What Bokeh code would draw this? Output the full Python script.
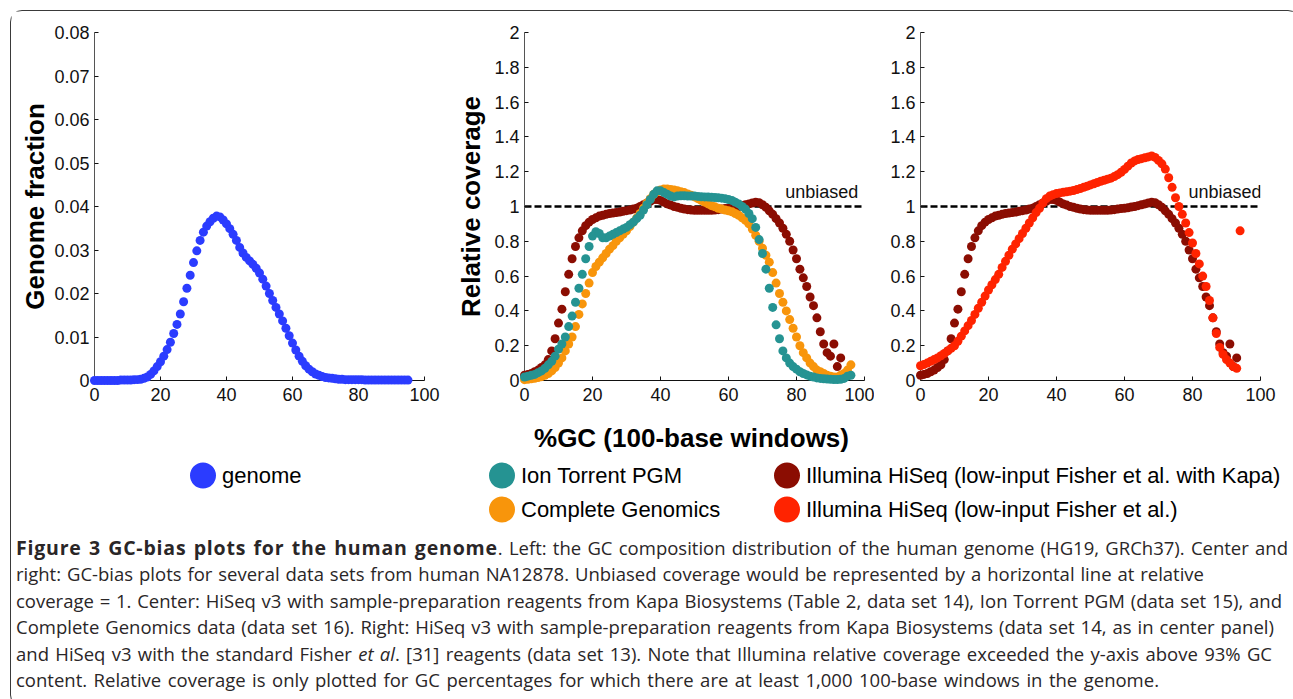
from bokeh.plotting import figure
from bokeh.models import Range1d, FixedTicker, Label, Div
from bokeh.layouts import column, row
from bokeh.embed import file_html
from bokeh.resources import INLINE
from bokeh.core.properties import value

# ---------------- data ----------------
genome_gc = list(range(0, 96))
genome_fraction = [
    0.0000, 0.0000, 0.0000, 0.0000, 0.0000, 0.0000, 0.0000, 0.0000, 0.0001, 0.0001,
    0.0001, 0.0001, 0.0002, 0.0002, 0.0003, 0.0005, 0.0008, 0.0014, 0.0022, 0.0032,
    0.0043, 0.0056, 0.0071, 0.0088, 0.0108, 0.0129, 0.0153, 0.0181, 0.0212, 0.0242,
    0.0271, 0.0298, 0.0322, 0.0341, 0.0355, 0.0365, 0.0373, 0.0378, 0.0376, 0.0369,
    0.0360, 0.0349, 0.0336, 0.0322, 0.0306, 0.0293, 0.0283, 0.0275, 0.0267, 0.0258,
    0.0247, 0.0233, 0.0217, 0.0200, 0.0184, 0.0168, 0.0153, 0.0137, 0.0120, 0.0103,
    0.0086, 0.0070, 0.0056, 0.0044, 0.0034, 0.0026, 0.0020, 0.0015, 0.0012, 0.0009,
    0.0007, 0.0006, 0.0005, 0.0004, 0.0003, 0.0003, 0.0002, 0.0002, 0.0002, 0.0002,
    0.0002, 0.0002, 0.0001, 0.0001, 0.0001, 0.0001, 0.0001, 0.0001, 0.0001, 0.0001,
    0.0001, 0.0001, 0.0001, 0.0001, 0.0001, 0.0001,
]

kapa_gc = list(range(0, 94))
kapa_cov = [
    0.03, 0.035, 0.04, 0.05, 0.06, 0.075, 0.09, 0.12, 0.17, 0.24,
    0.33, 0.41, 0.51, 0.61, 0.70, 0.77, 0.82, 0.86, 0.89, 0.91,
    0.925, 0.935, 0.945, 0.95, 0.955, 0.96, 0.962, 0.965, 0.968, 0.972,
    0.976, 0.98, 0.985, 0.99, 1.0, 1.01, 1.02, 1.03, 1.04, 1.04,
    1.035, 1.025, 1.015, 1.008, 1.0, 0.995, 0.99, 0.985, 0.982, 0.98,
    0.978, 0.978, 0.978, 0.978, 0.978, 0.978, 0.98, 0.982, 0.985, 0.988,
    0.99, 0.993, 0.997, 1.0, 1.005, 1.01, 1.015, 1.02, 1.025, 1.022,
    1.01, 0.995, 0.975, 0.955, 0.93, 0.905, 0.875, 0.84, 0.80, 0.75,
    0.70, 0.64, 0.59, 0.54, 0.48, 0.43, 0.36, 0.28, 0.21, 0.16,
    0.14, 0.21, 0.08, 0.13,
]

ion_gc = list(range(0, 97))
ion_cov = [
    0.02, 0.025, 0.03, 0.035, 0.045, 0.055, 0.07, 0.09, 0.11, 0.14,
    0.18, 0.21, 0.25, 0.31, 0.37, 0.45, 0.53, 0.61, 0.70, 0.77,
    0.83, 0.855, 0.845, 0.82, 0.82, 0.83, 0.84, 0.85, 0.86, 0.87,
    0.88, 0.895, 0.91, 0.93, 0.95, 0.98, 1.01, 1.04, 1.07, 1.09,
    1.09, 1.08, 1.07, 1.06, 1.055, 1.06, 1.062, 1.062, 1.06, 1.06,
    1.06, 1.058, 1.056, 1.055, 1.054, 1.053, 1.052, 1.05, 1.048, 1.045,
    1.04, 1.035, 1.025, 1.015, 1.0, 0.985, 0.96, 0.93, 0.88, 0.81,
    0.73, 0.64, 0.53, 0.42, 0.32, 0.24, 0.17, 0.13, 0.10, 0.08,
    0.065, 0.05, 0.04, 0.032, 0.025, 0.02, 0.015, 0.012, 0.01, 0.008,
    0.007, 0.006, 0.006, 0.007, 0.012, 0.025, 0.03,
]

cg_gc = list(range(0, 97))
cg_cov = [
    0.005, 0.007, 0.01, 0.013, 0.017, 0.022, 0.03, 0.04, 0.055, 0.075,
    0.10, 0.13, 0.17, 0.21, 0.25, 0.31, 0.38, 0.44, 0.50, 0.56,
    0.62, 0.655, 0.68, 0.705, 0.73, 0.755, 0.775, 0.80, 0.82, 0.84,
    0.86, 0.885, 0.91, 0.935, 0.96, 0.99, 1.02, 1.045, 1.07, 1.085,
    1.095, 1.10, 1.10, 1.098, 1.095, 1.09, 1.085, 1.08, 1.072, 1.065,
    1.055, 1.045, 1.035, 1.025, 1.015, 1.005, 0.998, 0.99, 0.985, 0.98,
    0.975, 0.97, 0.96, 0.95, 0.935, 0.92, 0.90, 0.87, 0.835, 0.80,
    0.76, 0.72, 0.68, 0.62, 0.56, 0.50, 0.45, 0.40, 0.35, 0.30,
    0.25, 0.20, 0.16, 0.13, 0.10, 0.08, 0.06, 0.05, 0.04, 0.03,
    0.025, 0.02, 0.02, 0.03, 0.04, 0.06, 0.09,
]

fisher_gc = list(range(0, 95))
fisher_cov = [
    0.085, 0.092, 0.10, 0.11, 0.12, 0.13, 0.142, 0.155, 0.17, 0.185,
    0.20, 0.225, 0.255, 0.285, 0.315, 0.345, 0.38, 0.415, 0.45, 0.485,
    0.52, 0.55, 0.58, 0.61, 0.65, 0.685, 0.72, 0.755, 0.785, 0.815,
    0.845, 0.875, 0.905, 0.935, 0.965, 0.99, 1.02, 1.045, 1.06, 1.068,
    1.074, 1.078, 1.082, 1.085, 1.088, 1.092, 1.097, 1.103, 1.11, 1.117,
    1.124, 1.131, 1.138, 1.145, 1.151, 1.157, 1.163, 1.172, 1.183, 1.197,
    1.213, 1.232, 1.25, 1.262, 1.27, 1.275, 1.28, 1.285, 1.29, 1.282,
    1.265, 1.245, 1.215, 1.165, 1.11, 1.05, 1.0, 0.955, 0.905, 0.85,
    0.79, 0.73, 0.67, 0.60, 0.54, 0.46, 0.36, 0.27, 0.19, 0.15,
    0.12, 0.10, 0.08, 0.07, 0.86,
]

unbiased_x = [0, 100]
unbiased_y = [1, 1]

x_ticks = [0, 20, 40, 60, 80, 100]
genome_ticks = [0, 0.01, 0.02, 0.03, 0.04, 0.05, 0.06, 0.07, 0.08]
genome_tick_labels = ["0", "0.01", "0.02", "0.03", "0.04", "0.05", "0.06", "0.07", "0.08"]
cov_ticks = [0, 0.2, 0.4, 0.6, 0.8, 1.0, 1.2, 1.4, 1.6, 1.8, 2.0]
cov_tick_labels = ["0", "0.2", "0.4", "0.6", "0.8", "1", "1.2", "1.4", "1.6", "1.8", "2"]

legend_labels = ["genome", "Ion Torrent PGM", "Complete Genomics",
                 "Illumina HiSeq (low-input Fisher et al. with Kapa)",
                 "Illumina HiSeq (low-input Fisher et al.)"]

# caption text, one entry per printed line (text, right edge of the line in px)
caption_lines = [
    ('<b style="font-size:19.5px; letter-spacing:0.8px;">Figure 3 GC-bias plots for the human genome</b>'
     '. Left: the GC composition distribution of the human genome (HG19, GRCh37). Center and', 1272),
    ("right: GC-bias plots for several data sets from human NA12878. Unbiased coverage would be "
     "represented by a horizontal line at relative", 1188),
    ("coverage = 1. Center: HiSeq v3 with sample-preparation reagents from Kapa Biosystems "
     "(Table 2, data set 14), Ion Torrent PGM (data set 15), and", 1266),
    ("Complete Genomics data (data set 16). Right: HiSeq v3 with sample-preparation reagents from "
     "Kapa Biosystems (data set 14, as in center panel)", 1258),
    ("and HiSeq v3 with the standard Fisher <i>et al</i>. [31] reagents (data set 13). Note that "
     "Illumina relative coverage exceeded the y-axis above 93% GC", 1256),
    ("content. Relative coverage is only plotted for GC percentages for which there are at least "
     "1,000 100-base windows in the genome.", 1143),
]

# ---------------- styles ----------------
BLUE = "#2b3cff"
TEAL = "#259392"
ORANGE = "#f8950b"
DARKRED = "#8b0d02"
RED = "#ff2300"
FONT = "Liberation Sans"
DOT = 9

FIG_H = 399
TOP = 21
BOTTOM = 30


def make_panel(width, left, right, y_end, ticks, tick_labels, ylabel=None, ylabel_standoff=3):
    p = figure(width=width, height=FIG_H,
               x_range=Range1d(0, 100), y_range=Range1d(0, y_end),
               output_backend="svg", toolbar_location=None,
               min_border_left=left, min_border_right=right,
               min_border_top=TOP, min_border_bottom=BOTTOM)
    p.grid.visible = False
    p.outline_line_color = None
    xa = p.xaxis[0]
    ya = p.yaxis[0]
    xa.ticker = FixedTicker(ticks=x_ticks)
    ya.ticker = FixedTicker(ticks=ticks)
    ya.major_label_overrides = {t: l for t, l in zip(ticks, tick_labels)}
    for ax in (xa, ya):
        ax.major_tick_in = 4
        ax.major_tick_out = 0
        ax.minor_tick_line_color = None
        ax.major_tick_line_color = "#111111"
        ax.major_label_text_font = FONT
        ax.major_label_text_font_size = "18px"
        ax.major_label_text_color = "#111111"
    xa.axis_line_color = "#111111"
    ya.axis_line_color = "#555555"
    xa.major_label_standoff = 7
    ya.major_label_standoff = 5
    if ylabel:
        ya.axis_label = ylabel
        ya.axis_label_text_font = FONT
        ya.axis_label_text_font_size = "26px"
        ya.axis_label_text_font_style = "bold"
        ya.axis_label_text_color = "#000000"
        ya.axis_label_standoff = ylabel_standoff
    return p


def dots(p, x, y, color):
    p.scatter(x, y, size=DOT, color=color, line_color=None, level="overlay")


def unbiased(p, x_right):
    p.line(unbiased_x, unbiased_y, line_color="black", line_width=2.5, line_dash="7 3")
    p.add_layout(Label(x=x_right, y=1.085, text="unbiased", text_align="right",
                       text_baseline="alphabetic", text_font=FONT,
                       text_font_size="18px", text_color="#111111"))


# left: genome composition
p1 = make_panel(433, 83, 20, 0.08, genome_ticks, genome_tick_labels,
                ylabel="Genome fraction", ylabel_standoff=1)
dots(p1, genome_gc, genome_fraction, BLUE)

# center
p2 = make_panel(430, 80, 10, 2.0, cov_ticks, cov_tick_labels,
                ylabel="Relative coverage", ylabel_standoff=5)
unbiased(p2, 98.2)
dots(p2, kapa_gc, kapa_cov, DARKRED)
dots(p2, cg_gc, cg_cov, ORANGE)
dots(p2, ion_gc, ion_cov, TEAL)

# right
p3 = make_panel(404, 46, 18, 2.0, cov_ticks, cov_tick_labels)
unbiased(p3, 100.3)
dots(p3, kapa_gc, kapa_cov, DARKRED)
dots(p3, fisher_gc, fisher_cov, RED)

# shared x label + legend (pixel-like canvas)
LEG_W, LEG_H = 1278, 120
leg = figure(width=LEG_W, height=LEG_H, x_range=Range1d(0, LEG_W), y_range=Range1d(LEG_H, 0),
             x_axis_type=None, y_axis_type=None, output_backend="svg",
             toolbar_location=None, min_border=0)
leg.grid.visible = False
leg.outline_line_color = None
leg.add_layout(Label(x=680, y=27, text="%GC (100-base windows)", text_align="center",
                     text_baseline="middle", text_font=FONT, text_font_size="26px",
                     text_font_style="bold", text_color="#000000"))
swatch_x = [191.5, 490.5, 490.5, 775.5, 775.5]
swatch_y = [65, 65, 99, 65, 99]
swatch_c = [BLUE, TEAL, ORANGE, DARKRED, RED]
leg.scatter(swatch_x, swatch_y, size=26, color=swatch_c, line_color=None)
leg.text([sx + 19 for sx in swatch_x], swatch_y, text=legend_labels,
         text_font=value(FONT), text_font_size="22px", text_baseline="middle",
         text_align="left", text_color="#000000")

line_divs = []
for txt, w in caption_lines:
    line_divs.append('<div style="text-align:justify; text-align-last:justify; width:%dpx; '
                     'white-space:nowrap; height:26.4px;">%s</div>' % (w, txt))
caption_html = (
    '<div style="padding:0; font-family:\'Open Sans\'; font-size:18.5px; '
    'line-height:26.4px; color:#2a2627;">' + "".join(line_divs) + '</div>'
)
cap = Div(text=caption_html, width=1278, height=166)

root = column(row(p1, p2, p3), leg, cap,
              styles={"border": "1.5px solid #3a3a3a", "border-radius": "12px",
                      "background-color": "white", "margin-left": "10px", "margin-top": "10px"})

open("out.html", "w").write(file_html(root, INLINE))
